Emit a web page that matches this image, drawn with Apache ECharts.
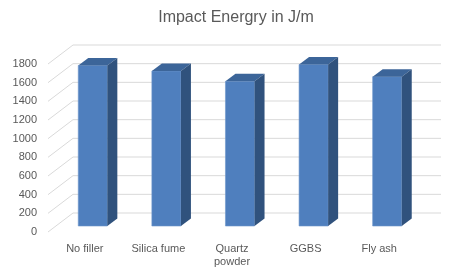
<!DOCTYPE html>
<html>
<head>
<meta charset="utf-8">
<script src="https://cdn.jsdelivr.net/npm/echarts@6/dist/echarts.min.js"></script>
<style>
html,body{margin:0;padding:0;background:#fff;}
#main{width:454px;height:274px;}
</style>
</head>
<body>
<div id="main"></div>
<script>
// 数据
const categories = ['No filler', 'Silica fume', 'Quartz\npowder', 'GGBS', 'Fly ash'];
const impactValues = [1720, 1660, 1550, 1730, 1600];
const yTicks = [0, 200, 400, 600, 800, 1000, 1200, 1400, 1600, 1800];

// 3D 偏移 (墙的进深, 柱子的位置和进深)
const wallDx = 25, wallDy = 19;
const barOffX = 8, barOffY = 6;
const barDx = 10, barDy = 7.5;

let chart = echarts.init(document.getElementById('main'));

// 背景墙网格线
function renderWall(params, api) {
    let y = api.coord([0, api.value(1)])[1];
    let x0 = params.coordSys.x;
    let x1 = x0 + params.coordSys.width;
    return {
        type: 'polyline',
        shape: {points: [[x0, y], [x0 + wallDx, y - wallDy], [x1 + wallDx, y - wallDy]]},
        style: {stroke: '#d9d9d9', lineWidth: 1, fill: null}
    };
}

// 立体柱子
function renderBar(params, api) {
    let idx = api.value(0);
    let base = api.coord([idx, 0]);
    let top = api.coord([idx, api.value(1)]);
    let w = api.size([1, 0])[0] * 0.395;
    let cx = base[0] + barOffX;
    let yt = top[1] - barOffY;
    let yb = base[1] - barOffY;
    let xl = cx - w / 2, xr = cx + w / 2;
    return {
        type: 'group',
        children: [
            {type: 'rect', shape: {x: xl, y: yt, width: w, height: yb - yt},
                style: {fill: '#4f7fbe', stroke: '#6b95cb', lineWidth: 0.6}},
            {type: 'polygon', shape: {points: [[xl, yt], [xr, yt], [xr + barDx, yt - barDy], [xl + barDx, yt - barDy]]},
                style: {fill: '#3c6599'}},
            {type: 'polygon', shape: {points: [[xr, yt], [xr + barDx, yt - barDy], [xr + barDx, yb - barDy], [xr, yb]]},
                style: {fill: '#30527d'}}
        ]
    };
}

option = {
    animation: false,
    title: {
        text: 'Impact Energry in J/m',
        left: 231,
        textAlign: 'center',
        top: 5,
        textStyle: {color: '#595959', fontSize: 16, fontWeight: 'normal', fontFamily: 'Liberation Sans'}
    },
    grid: {left: 48, right: 38, top: 64, bottom: 42},
    xAxis: {
        type: 'category',
        data: categories,
        boundaryGap: true,
        axisLine: {show: false},
        axisTick: {show: false},
        axisLabel: {color: '#595959', fontSize: 11, fontFamily: 'Liberation Sans', margin: 10, lineHeight: 13, interval: 0}
    },
    yAxis: {
        type: 'value',
        min: 0,
        max: 1800,
        interval: 200,
        axisLine: {show: false},
        axisTick: {show: false},
        splitLine: {show: false},
        axisLabel: {color: '#595959', fontSize: 11, fontFamily: 'Liberation Sans', margin: 11,
            formatter: function (v) { return String(v); }}
    },
    series: [
        {type: 'custom', renderItem: renderWall, data: yTicks.map(v => [0, v]), z: 1, silent: true},
        {type: 'custom', renderItem: renderBar, data: impactValues.map((v, i) => [i, v]), z: 2}
    ]
};
chart.setOption(option);
</script>
</body>
</html>
